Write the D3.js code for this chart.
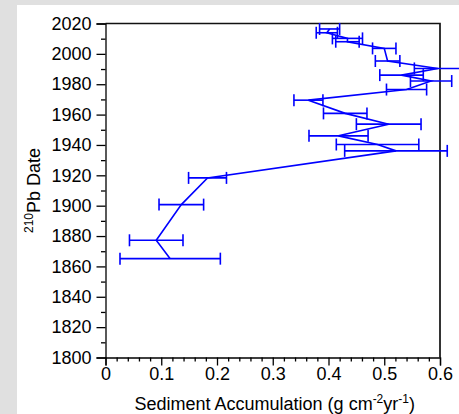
<!DOCTYPE html>
<html><head><meta charset="utf-8">
<script src="https://cdn.jsdelivr.net/npm/d3@7"></script>
<style>
html,body{margin:0;padding:0;background:#e0e0e0;}
svg{display:block;}
text{font-family:"Liberation Sans",Arial,Helvetica,sans-serif;fill:#000;}
</style></head>
<body>
<svg id="c" width="459" height="414"></svg>
<script>
// 210Pb dates (year) and sediment accumulation (g cm^-2 yr^-1) with +/- error
const dates  = [1865.1,1877.2,1900.7,1918.3,1936.1,1940.3,1946.0,1953.7,1960.8,1969.5,1976.5,1982.1,1986.0,1990.4,1995.3,2003.6,2008.0,2010.2,2013.9,2016.4];
const accum  = [0.116,0.091,0.136,0.183,0.521,0.488,0.418,0.508,0.430,0.364,0.540,0.584,0.531,0.596,0.506,0.500,0.434,0.434,0.397,0.402];
const errors = [0.090,0.048,0.040,0.034,0.092,0.074,0.053,0.058,0.039,0.026,0.036,0.037,0.039,0.042,0.022,0.021,0.021,0.027,0.019,0.018];
const xTicks = [0,0.1,0.2,0.3,0.4,0.5,0.6];
const yTicks = [1800,1820,1840,1860,1880,1900,1920,1940,1960,1980,2000,2020];

const svg = d3.select("#c");
svg.append("rect").attr("x",17).attr("y",5).attr("width",442).attr("height",409).attr("fill","#fff");

const L=105.5, R=440, T=23.5, B=357.5;
const x = d3.scaleLinear().domain([0,0.6]).range([L,R]);
const y = d3.scaleLinear().domain([1800,2020]).range([B,T]);

const pts = dates.map((d,i)=>({d, v:accum[i], e:errors[i]}));

// frame top/right
svg.append("path").attr("d",`M${L},${T}H${R}V${B}`).attr("fill","none").attr("stroke","#111").attr("stroke-width",1.7);

// y axis
svg.append("g").attr("transform",`translate(${L},0)`)
  .call(d3.axisLeft(y).tickValues(yTicks).tickFormat(d3.format("d")).tickSize(9).tickPadding(5));
svg.append("g").attr("transform",`translate(${L},0)`)
  .call(d3.axisLeft(y).tickValues(d3.range(1810,2020,20)).tickFormat("").tickSize(4.5))
  .select(".domain").remove();
// x axis
svg.append("g").attr("transform",`translate(0,${B})`)
  .call(d3.axisBottom(x).tickValues(xTicks).tickFormat(d=>d===0?"0":d3.format(".1f")(d)).tickSize(8).tickPadding(2));
svg.append("g").attr("transform",`translate(0,${B})`)
  .call(d3.axisBottom(x).tickValues(d3.range(0.02,0.6,0.02).filter(v=>Math.abs(v*10-Math.round(v*10))>1e-6)).tickFormat("").tickSize(4))
  .select(".domain").remove();
svg.selectAll(".tick text").attr("font-size",18).attr("font-family","Liberation Sans, Arial, sans-serif");
svg.selectAll(".domain,.tick line").attr("stroke","#000").attr("stroke-width",1.3);

// error bars
const blue="#0000ff";
const eb = svg.append("g").attr("stroke",blue).attr("stroke-width",1.6).attr("fill","none");
pts.forEach(p=>{
  const yy=y(p.d), x1=x(p.v-p.e), x2=x(p.v+p.e);
  eb.append("line").attr("x1",x1).attr("x2",x2).attr("y1",yy).attr("y2",yy);
  eb.append("line").attr("x1",x1).attr("x2",x1).attr("y1",yy-6).attr("y2",yy+6);
  eb.append("line").attr("x1",x2).attr("x2",x2).attr("y1",yy-6).attr("y2",yy+6);
});
// line
svg.append("path").datum(pts)
  .attr("d",d3.line().x(p=>x(p.v)).y(p=>y(p.d)))
  .attr("fill","none").attr("stroke",blue).attr("stroke-width",1.6);

// axis titles
const xt = svg.append("text").attr("x",(L+R)/2+2).attr("y",410).attr("text-anchor","middle").attr("font-size",18);
xt.append("tspan").text("Sediment Accumulation (g cm");
xt.append("tspan").attr("dy",-7).attr("font-size",12).text("-2");
xt.append("tspan").attr("dy",7).text("yr");
xt.append("tspan").attr("dy",-7).attr("font-size",12).text("-1");
xt.append("tspan").attr("dy",7).text(")");

const yt = svg.append("text").attr("transform",`translate(40,${(T+B)/2}) rotate(-90)`).attr("text-anchor","middle").attr("font-size",18);
yt.append("tspan").attr("dy",-7).attr("font-size",12).text("210");
yt.append("tspan").attr("dy",7).text("Pb Date");
</script>
</body></html>
